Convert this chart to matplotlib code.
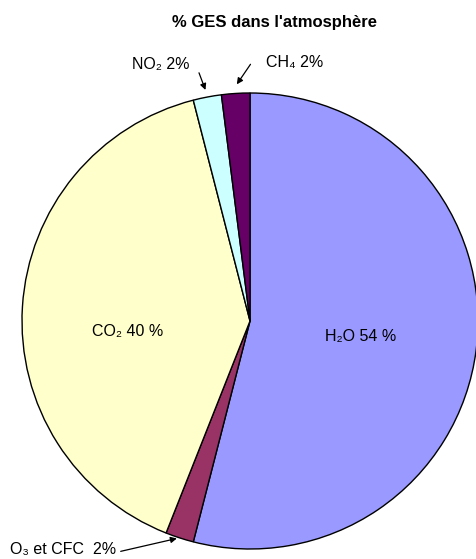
import numpy as np
import matplotlib
matplotlib.use('Agg')
import matplotlib.pyplot as plt

plt.rcParams['font.family'] = ['Liberation Sans', 'DejaVu Sans']

labels = ['H₂O 54 %', 'O₃ et CFC  2%', 'CO₂ 40 %', 'NO₂ 2%', 'CH₄ 2%']
values = [54, 2, 40, 2, 2]
colors = ['#9999FF', '#993366', '#FFFFCC', '#CCFFFF', '#660066']

W, H = 476, 559
cx, cy, r = 250, 321, 228  # pie centre and radius in pixels

fig = plt.figure(figsize=(W / 100, H / 100), dpi=100)
ax = fig.add_axes([(cx - r) / W, (H - cy - r) / H, 2 * r / W, 2 * r / H])
wedges, _ = ax.pie(values, colors=colors, startangle=90, counterclock=False,
                   radius=1, wedgeprops=dict(edgecolor='black', linewidth=1.0))
ax.set_xlim(-1, 1)
ax.set_ylim(-1, 1)
ax.set_aspect('equal')
ax.axis('off')
for w in wedges:
    w.set_clip_on(False)


def mid_point(w, rad):
    a = np.deg2rad((w.theta1 + w.theta2) / 2)
    return rad * np.cos(a), rad * np.sin(a)


fs = 11.5
# labels inside the big slices
ax.text(0.485, -0.07, labels[0], ha='center', va='center', fontsize=fs)
ax.text(-0.535, -0.044, labels[2], ha='center', va='center', fontsize=fs)

# outside labels with arrows
ax.text(-0.39, 1.123, labels[3], ha='center', va='center', fontsize=fs)
ax.text(0.197, 1.132, labels[4], ha='center', va='center', fontsize=fs)
ax.text(-0.822, -1.004, labels[1], ha='center', va='center', fontsize=fs)

arrow = dict(arrowstyle='-|>', color='black', lw=0.9, mutation_scale=9)
ax.annotate('', xy=mid_point(wedges[3], 1.02), xytext=(-0.228, 1.10), arrowprops=arrow,
            annotation_clip=False)
ax.annotate('', xy=mid_point(wedges[4], 1.03), xytext=(0.009, 1.136), arrowprops=arrow,
            annotation_clip=False)
ax.annotate('', xy=mid_point(wedges[1], 1.0), xytext=(-0.579, -1.013), arrowprops=arrow,
            annotation_clip=False)

fig.text(274 / W, 1 - 23 / H, "% GES dans l'atmosphère", ha='center', va='center',
         fontsize=12, fontweight='bold')

fig.savefig('out.png', dpi=100)
